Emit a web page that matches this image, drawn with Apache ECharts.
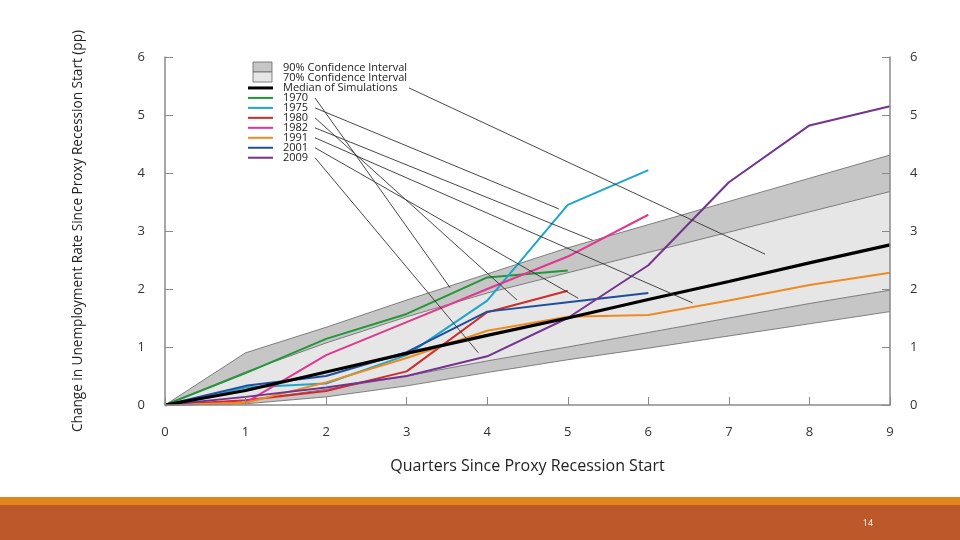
<!DOCTYPE html>
<html>
<head>
<meta charset="utf-8">
<script src="https://cdn.jsdelivr.net/npm/echarts@6/dist/echarts.min.js"></script>
<style>
  html, body { margin: 0; padding: 0; background: #fff; }
  #chart { width: 960px; height: 540px; }
</style>
</head>
<body>
<div id="chart"></div>
<script>
// quarters since proxy recession start
const quarters = [0, 1, 2, 3, 4, 5, 6, 7, 8, 9];

// simulation bands
const upper90 = [0, 0.90, 1.34, 1.81, 2.26, 2.71, 3.11, 3.51, 3.91, 4.31];
const upper70 = [0, 0.57, 1.07, 1.52, 1.93, 2.28, 2.63, 2.98, 3.33, 3.68];
const lower70 = [0, 0.08, 0.27, 0.50, 0.76, 1.00, 1.25, 1.50, 1.75, 1.98];
const lower90 = [0, 0.02, 0.14, 0.33, 0.56, 0.78, 0.98, 1.19, 1.40, 1.61];
const median = [0, 0.25, 0.57, 0.89, 1.20, 1.50, 1.82, 2.13, 2.45, 2.76];

// actual recessions
const years = ['1970', '1975', '1980', '1982', '1991', '2001', '2009'];
const s1970 = [0, 0.55, 1.14, 1.57, 2.20, 2.32];
const s1975 = [0, 0.30, 0.37, 0.86, 1.80, 3.45, 4.05];
const s1980 = [0, 0.08, 0.24, 0.58, 1.60, 1.97];
const s1982 = [0, 0.04, 0.86, 1.43, 2.00, 2.56, 3.28];
const s1991 = [0, 0.04, 0.39, 0.81, 1.28, 1.52, 1.55, 1.80, 2.07, 2.28];
const s2001 = [0, 0.33, 0.50, 0.91, 1.61, 1.77, 1.93];
const s2009 = [0, 0.14, 0.30, 0.50, 0.84, 1.50, 2.41, 3.84, 4.82, 5.15];
const yearData = [s1970, s1975, s1980, s1982, s1991, s2001, s2009];
const yearColors = ['#23963a', '#1ea6cc', '#d12a2a', '#e0378f', '#ee8a22', '#1f4e9e', '#74338f'];

// where each legend leader line points to (data coords)
const medianTarget = [7.45, 2.60];
const yearTargets = [[3.54, 2.02], [4.89, 3.38], [4.37, 1.81], [5.31, 2.84], [6.55, 1.76], [5.13, 1.84], [3.89, 0.90]];

const font = "'Open Sans', 'DejaVu Sans', sans-serif";
const axisColor = '#8a8a8a';

const chart = echarts.init(document.getElementById('chart'));

function pairs(vals) {
  return vals.map((v, i) => [quarters[i], v]);
}

function band(name, data, fill) {
  return {
    name: name,
    type: 'line',
    data: pairs(data),
    symbol: 'none',
    silent: true,
    lineStyle: { color: '#666', width: 0.8 },
    areaStyle: { color: fill, opacity: 1 },
    z: 1
  };
}

function yAxisOpt(pos) {
  return {
    type: 'value',
    position: pos,
    min: 0,
    max: 6,
    interval: 1,
    z: 5,
    axisLine: { show: true, lineStyle: { color: axisColor, width: 1.5 } },
    axisTick: { show: true, inside: true, length: 8, lineStyle: { color: axisColor } },
    axisLabel: { color: '#333', fontSize: 13, fontFamily: font, margin: 20 },
    splitLine: { show: false }
  };
}

const series = [
  band('90 upper', upper90, '#c6c6c6'),
  band('70 upper', upper70, '#e6e6e6'),
  band('70 lower', lower70, '#c6c6c6'),
  band('90 lower', lower90, '#ffffff')
];

years.forEach((y, i) => {
  series.push({
    name: y,
    type: 'line',
    data: pairs(yearData[i]),
    symbol: 'none',
    lineStyle: { color: yearColors[i], width: 2 },
    z: 3
  });
});

series.push({
  name: 'Median of Simulations',
  type: 'line',
  data: pairs(median),
  symbol: 'none',
  lineStyle: { color: '#000', width: 3.2 },
  z: 4
});

chart.setOption({
  animation: false,
  backgroundColor: '#fff',
  grid: { left: 165, right: 70, top: 57, bottom: 135 },
  xAxis: {
    type: 'value',
    min: 0,
    max: 9,
    interval: 1,
    z: 5,
    name: 'Quarters Since Proxy Recession Start',
    nameLocation: 'middle',
    nameGap: 53,
    nameTextStyle: { color: '#222', fontSize: 16, fontFamily: font },
    axisLine: { lineStyle: { color: axisColor, width: 1.5 } },
    axisTick: { inside: true, length: 8, lineStyle: { color: axisColor } },
    axisLabel: { color: '#333', fontSize: 13, fontFamily: font, margin: 21 },
    splitLine: { show: false }
  },
  yAxis: [
    Object.assign(yAxisOpt('left'), {
      name: 'Change in Unemployment Rate Since Proxy Recession Start (pp)',
      nameLocation: 'middle',
      nameGap: 80,
      nameTextStyle: { color: '#222', fontSize: 13.6, fontFamily: font }
    }),
    yAxisOpt('right')
  ],
  series: series
});

// legend drawn inside the plot, with leader lines to the curves
const legendX = 248;
const textX = 283;
const rowY = (i) => 68 + i * 9.97;
const graphic = [];

graphic.push({ type: 'rect', shape: { x: 253, y: 62, width: 19, height: 10 }, style: { fill: '#c6c6c6', stroke: '#666', lineWidth: 0.8 }, z: 20 });
graphic.push({ type: 'rect', shape: { x: 253, y: 72, width: 19, height: 10 }, style: { fill: '#e6e6e6', stroke: '#666', lineWidth: 0.8 }, z: 20 });

const labels = ['90% Confidence Interval', '70% Confidence Interval', 'Median of Simulations'].concat(years);
labels.forEach((t, i) => {
  graphic.push({
    type: 'text',
    x: textX,
    y: rowY(i),
    style: { text: t, fill: '#222', font: '11px ' + font, verticalAlign: 'middle' },
    z: 20
  });
});

graphic.push({ type: 'line', shape: { x1: legendX, y1: rowY(2), x2: legendX + 25, y2: rowY(2) }, style: { stroke: '#000', lineWidth: 3 }, z: 20 });
years.forEach((y, i) => {
  graphic.push({ type: 'line', shape: { x1: legendX, y1: rowY(i + 3), x2: legendX + 25, y2: rowY(i + 3) }, style: { stroke: yearColors[i], lineWidth: 2 }, z: 20 });
});

const mp = chart.convertToPixel({ gridIndex: 0 }, medianTarget);
graphic.push({ type: 'line', shape: { x1: 409, y1: rowY(2), x2: mp[0], y2: mp[1] }, style: { stroke: '#333', lineWidth: 0.9 }, z: 20 });
yearTargets.forEach((t, i) => {
  const p = chart.convertToPixel({ gridIndex: 0 }, t);
  graphic.push({ type: 'line', shape: { x1: 315, y1: rowY(i + 3), x2: p[0], y2: p[1] }, style: { stroke: '#333', lineWidth: 0.9 }, z: 20 });
});

// slide footer
graphic.push({ type: 'rect', shape: { x: 0, y: 497, width: 960, height: 8 }, style: { fill: '#e0861c' }, z: 20 });
graphic.push({ type: 'rect', shape: { x: 0, y: 505, width: 960, height: 35 }, style: { fill: '#bd582b' }, z: 20 });
graphic.push({ type: 'text', x: 868, y: 523, style: { text: '14', fill: '#fff', font: '9px ' + font, align: 'center', verticalAlign: 'middle' }, z: 21 });

chart.setOption({ graphic: graphic });
</script>
</body>
</html>
